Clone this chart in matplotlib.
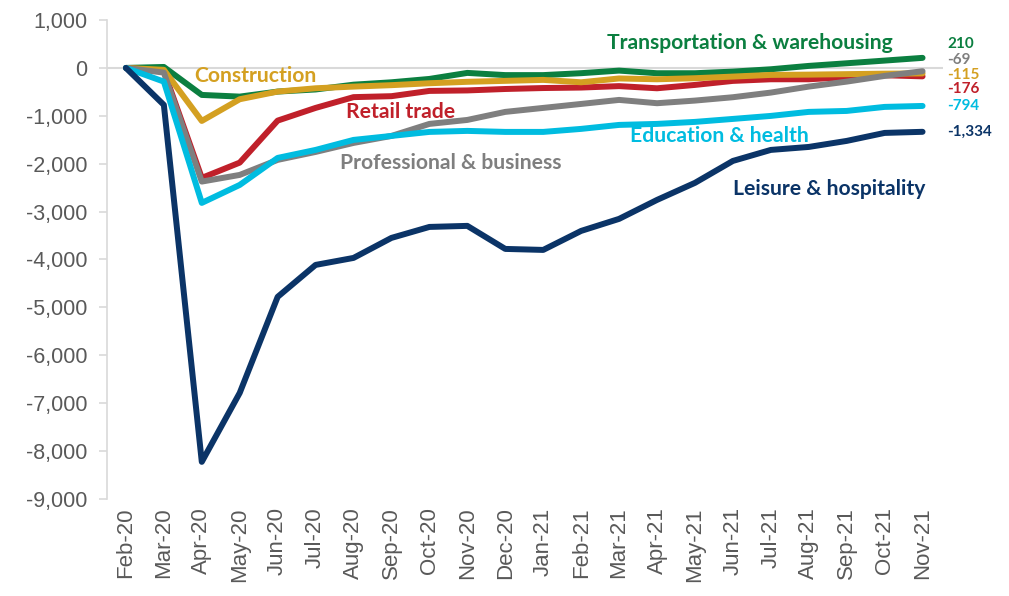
import matplotlib
matplotlib.use("Agg")
import matplotlib.pyplot as plt
from matplotlib.ticker import FuncFormatter

months = ["Feb-20", "Mar-20", "Apr-20", "May-20", "Jun-20", "Jul-20", "Aug-20", "Sep-20",
          "Oct-20", "Nov-20", "Dec-20", "Jan-21", "Feb-21", "Mar-21", "Apr-21", "May-21",
          "Jun-21", "Jul-21", "Aug-21", "Sep-21", "Oct-21", "Nov-21"]

transportation = [0, 20, -564, -599, -494, -450, -350, -300, -230, -104, -150, -150,
                  -110, -56, -111, -111, -77, -28, 42, 97, 153, 210]
retail = [0, -60, -2296, -1977, -1100, -835, -610, -590, -480, -470, -440, -420,
          -410, -380, -425, -355, -271, -237, -237, -195, -153, -176]
construction = [0, -40, -1107, -654, -494, -425, -390, -360, -320, -290, -270, -250,
                -300, -220, -237, -215, -181, -146, -140, -130, -120, -115]
professional = [0, -98, -2373, -2234, -1920, -1754, -1566, -1420, -1169, -1086, -918, -835,
                -752, -668, -737, -682, -612, -515, -390, -286, -167, -69]
education = [0, -286, -2818, -2443, -1879, -1712, -1503, -1420, -1336, -1315, -1336, -1336,
             -1273, -1190, -1169, -1127, -1065, -1002, -918, -898, -814, -794]
leisure = [0, -772, -8225, -6785, -4780, -4113, -3967, -3549, -3320, -3298, -3779, -3800,
           -3403, -3152, -2756, -2400, -1942, -1712, -1650, -1524, -1357, -1334]

y_ticks = list(range(-9000, 1001, 1000))

series = [
    ("Transportation & warehousing", transportation, "#0b7f40", (16.44, 522), "210", 500),
    ("Retail trade", retail, "#c0202a", (7.23, -919), "-176", -438),
    ("Construction", construction, "#d4a021", (3.40, -167), "-115", -146),
    ("Professional & business", professional, "#7f7f7f", (8.55, -1983), "-69", 167),
    ("Education & health", education, "#00bce0", (15.65, -1420), "-794", -793),
    ("Leisure & hospitality", leisure, "#0b3467", (18.55, -2526), "-1,334", -1336),
]

fig = plt.figure(figsize=(10.09, 5.96), dpi=100)
ax = fig.add_axes([0.106, 0.1628, 0.829, 0.8036])

x = list(range(len(months)))
ax.axhline(0, color="#d9d9d9", lw=1.5, zorder=1)
for i, (name, vals, col, lpos, endtxt, endy) in enumerate(series):
    ax.plot(x, vals, color=col, lw=4.3, solid_capstyle="round", solid_joinstyle="round", zorder=2 + i)
    ax.text(lpos[0], lpos[1], name, color=col, fontsize=15.2, fontweight="bold",
            family=["Lato", "DejaVu Sans"], ha="center", va="center", zorder=10)
    ax.text(21.65, endy, endtxt, color=col, fontsize=11, fontweight="bold",
            family=["Lato", "DejaVu Sans"], ha="left", va="center", zorder=10)

ax.set_xlim(-0.5, 21.55)
ax.set_ylim(-9000, 1000)
ax.set_yticks(y_ticks)
ax.yaxis.set_major_formatter(FuncFormatter(lambda v, p: f"{int(v):,}"))
ax.set_xticks(x)
ax.set_xticklabels(months, rotation=90, family="Liberation Sans", fontsize=16, color="#595959")
for lab in ax.get_yticklabels():
    lab.set_family("Liberation Sans")
    lab.set_fontsize(15.5)
    lab.set_color("#595959")

for s in ["top", "right", "bottom"]:
    ax.spines[s].set_visible(False)
ax.spines["left"].set_color("#d9d9d9")
ax.spines["left"].set_linewidth(1.2)
ax.tick_params(axis="y", length=6, color="#d9d9d9", width=1.2, pad=8)
ax.tick_params(axis="x", length=0, pad=6)

fig.savefig("out.png", dpi=100)
